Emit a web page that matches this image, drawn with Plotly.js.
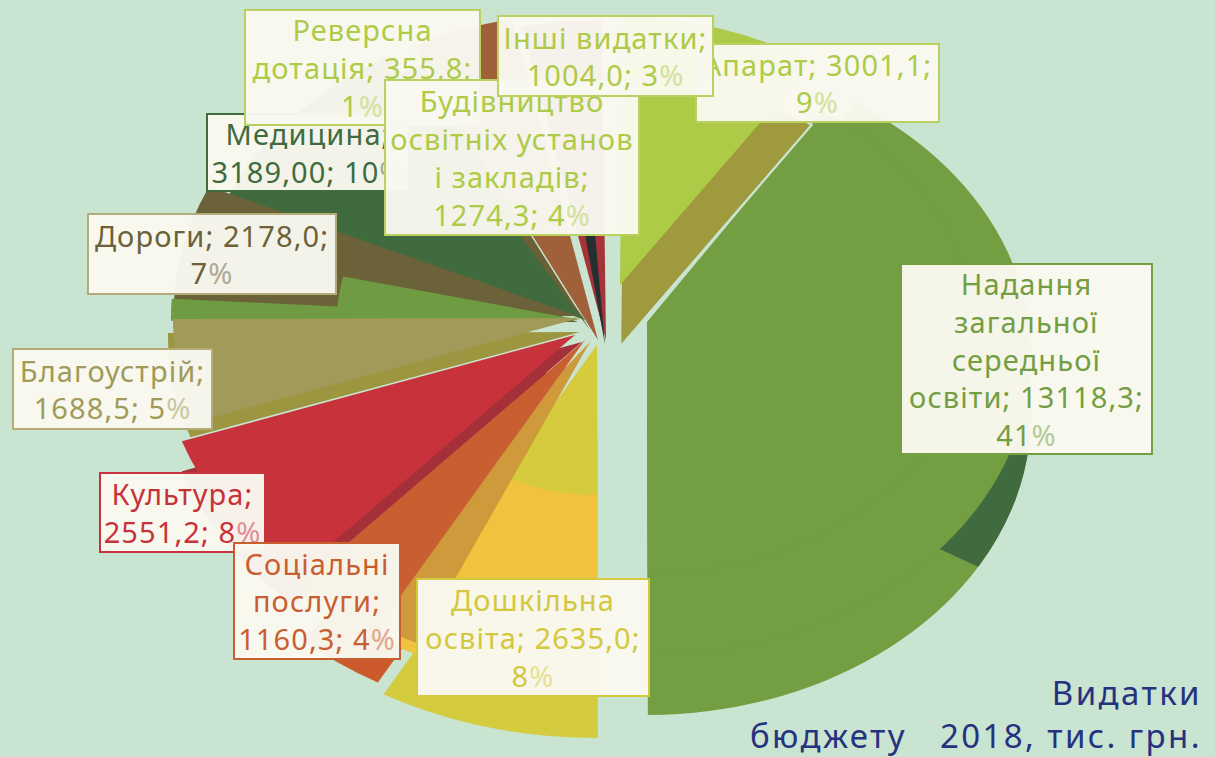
<!DOCTYPE html>
<html>
<head>
<meta charset="utf-8">
<script src="https://cdn.plot.ly/plotly-3.0.1.min.js"></script>
<style>html,body{margin:0;padding:0;background:#c9e4d0;overflow:hidden}</style>
</head>
<body>
<div id="chart" style="width:1215px;height:757px"></div>
<script>
// ---- data ----
const categories = ['Надання загальної середньої освіти','Дошкільна освіта','Соціальні послуги','Культура','Благоустрій','Дороги','Медицина','Реверсна дотація','Будівництво освітніх установ і закладів','Інші видатки','Апарат'];
const values = [13118.3,2635.0,1160.3,2551.2,1688.5,2178.0,3189.0,355.8,1274.3,1004.0,3001.1];
const labelNadannya = ['Надання','загальної','середньої','освіти; 13118,3;','41%'];
const labelDoshkilna = ['Дошкільна','освіта; 2635,0;','8%'];
const labelSocial = ['Соціальні','послуги;','1160,3; 4%'];
const labelKultura = ['Культура;','2551,2; 8%'];
const labelBlago = ['Благоустрій;','1688,5; 5%'];
const labelDorogy = ['Дороги; 2178,0;','7%'];
const labelMedicine = ['Медицина;','3189,00; 10%'];
const labelReverse = ['Реверсна','дотація; 355,8;','1%'];
const labelBuild = ['Будівництво','освітніх установ','і закладів;','1274,3; 4%'];
const labelOther = ['Інші видатки;','1004,0; 3%'];
const labelAparat = ['Апарат; 3001,1;','9%'];
const titleLines = ['Видатки','бюджету&nbsp;&nbsp; 2018, тис. грн.'];

// ---- styling ----
const W = 1215, H = 757, BG = '#c9e4d0';
const K = 1.28, X0 = 607.5;           // horizontal stretch that gives the tilted-disc look
const BASE_ROT = 33;
const total = values.reduce((a,b)=>a+b,0);
const cumAngle = i => values.slice(0,i).reduce((a,b)=>a+b,0)/total*360;

// draw order: slice index, centre, radius, colour, optional start angle
const layers = [
  {i:6, cx:585, cy:320, r:305, c:'#3f6b3e'},
  {i:5, cx:578, cy:322, r:316, c:'#6b6239'},
  {i:5, cx:578, cy:316, r:316, c:'#6b6239'},
  {i:8, cx:580, cy:320, r:190, c:'#6f9c42', start:269},
  {i:7, cx:578, cy:318, r:318, c:'#6f9c42', start:269.5},
  {i:7, cx:590, cy:330, r:295, c:'#6b5f35'},
  {i:8, cx:598, cy:340, r:328, c:'#a0603a'},
  {i:9, cx:606, cy:340, r:320, c:'#a5333a'},
  {i:7, cx:605, cy:345, r:115, c:'#24302f', start:352},
  {i:2, cx:585, cy:395, r:330, c:'#cc5a2c'},
  {i:1, cx:597, cy:398, r:340, c:'#d5cb3e'},
  {i:1, cx:597, cy:345, r:340, c:'#f0c23e'},
  {i:1, cx:597, cy:345, r:150, c:'#d6cb3c'},
  {i:4, cx:580, cy:332, r:322, c:'#9d9640'},
  {i:3, cx:575, cy:365, r:325, c:'#a5303a'},
  {i:3, cx:582, cy:342, r:110, c:'#a5303a'},
  {i:2, cx:590, cy:342, r:330, c:'#cf9a3c', start:204},
  {i:2, cx:585, cy:340, r:330, c:'#c95f30'},
  {i:3, cx:575, cy:335, r:325, c:'#c8323a'},
  {i:4, cx:580, cy:318, r:318, c:'#a19a58'},
  {i:0, cx:647, cy:415, r:300, c:'#739e42'},
  {i:5, cx:647, cy:415, r:300, c:'#3f6b3e', start:96},
  {i:0, cx:647, cy:355, r:300, c:'#739e42'},
  {i:0, cx:647, cy:322, r:252, c:'#739e42'},
  {i:10, cx:620, cy:347, r:268, c:'#a09a3e', start:0.4, gap:2},
  {i:10, cx:620, cy:285, r:268, c:'#aecb47', start:0.4}
];

const traces = layers.map(l => {
  const dcx = X0 + (l.cx - X0)/K;
  return {
    type:'pie', labels:categories, values:values, sort:false, direction:'clockwise',
    rotation: l.start === undefined ? BASE_ROT : l.start - cumAngle(l.i),
    domain:{x:[(dcx-l.r)/W,(dcx+l.r)/W], y:[1-(l.cy+l.r)/H,1-(l.cy-l.r)/H]},
    marker:{
      colors:values.map((_,j)=>j===l.i?l.c:'rgba(0,0,0,0)'),
      line:{color:BG,width:values.map((_,j)=>j===l.i&&l.gap?l.gap:0)}
    },
    textinfo:'none', hoverinfo:'label+value', showlegend:false
  };
});

// lighter tint for the thin percent sign
const tint = hex => {
  const n = parseInt(hex.slice(1),16);
  const m = v => Math.round(v+(255-v)*0.45);
  return 'rgb('+m(n>>16)+','+m((n>>8)&255)+','+m(n&255)+')';
};

// ---- labels: box in page pixels ----
const FONT = '"Noto Sans", sans-serif';
const box = (lines,x0,y0,x1,y1,color,border) => ({
  text: lines.join('<br>').replace('%','<span style="color:'+tint(color)+'">%</span>'),
  xref:'paper', yref:'paper', showarrow:false,
  x:(x0+x1)/2/W, y:1-(y0+y1)/2/H, xanchor:'center', yanchor:'middle',
  width:x1-x0-4, height:y1-y0-4, align:'center', valign:'middle', borderpad:0,
  bgcolor:'rgba(249,248,240,0.97)', bordercolor:border, borderwidth:2,
  font:{family:FONT,size:29,color:color}
});
const annotations = [
  box(labelMedicine,206,113,410,192,'#3f6b3e','#3f6b3e'),
  box(labelDorogy,87,213,337,295,'#6b6239','#b3ac78'),
  box(labelReverse,244,9,481,126,'#aecb47','#b8d160'),
  box(labelAparat,695,43,940,123,'#aecb47','#b8d160'),
  box(labelBuild,384,79,640,236,'#aecb47','#b8d160'),
  box(labelOther,497,15,714,97,'#aecb47','#b8d160'),
  box(labelNadannya,900,263,1153,455,'#739e42','#739e42'),
  box(labelBlago,12,348,213,430,'#a19a58','#b3ac78'),
  box(labelKultura,99,472,266,553,'#c8323a','#c8323a'),
  box(labelSocial,233,542,401,660,'#c95f30','#c95f30'),
  box(labelDoshkilna,416,578,650,697,'#d4c83e','#d4c83e')
];

const layout = {
  width:W, height:H, margin:{l:0,r:0,t:0,b:0},
  paper_bgcolor:BG, plot_bgcolor:BG, showlegend:false,
  annotations:annotations,
  title:{
    text:titleLines.join('<br>'),
    font:{family:FONT,size:33,color:'#27327f'},
    xref:'paper', yref:'paper', x:1202/W, xanchor:'right', y:(H-705)/H, yanchor:'middle'
  }
};

Plotly.newPlot('chart',traces,layout,{displayModeBar:false}).then(gd=>{
  const layer = gd.querySelector('.pielayer');
  if(layer) layer.setAttribute('transform','translate('+X0+',0) scale('+K+',1) translate('+(-X0)+',0)');
  gd.querySelectorAll('.annotation-text').forEach(t=>{t.style.letterSpacing='1.1px';});
  gd.querySelectorAll('.gtitle').forEach(t=>{t.style.letterSpacing='2.4px';});
});
</script>
</body>
</html>
